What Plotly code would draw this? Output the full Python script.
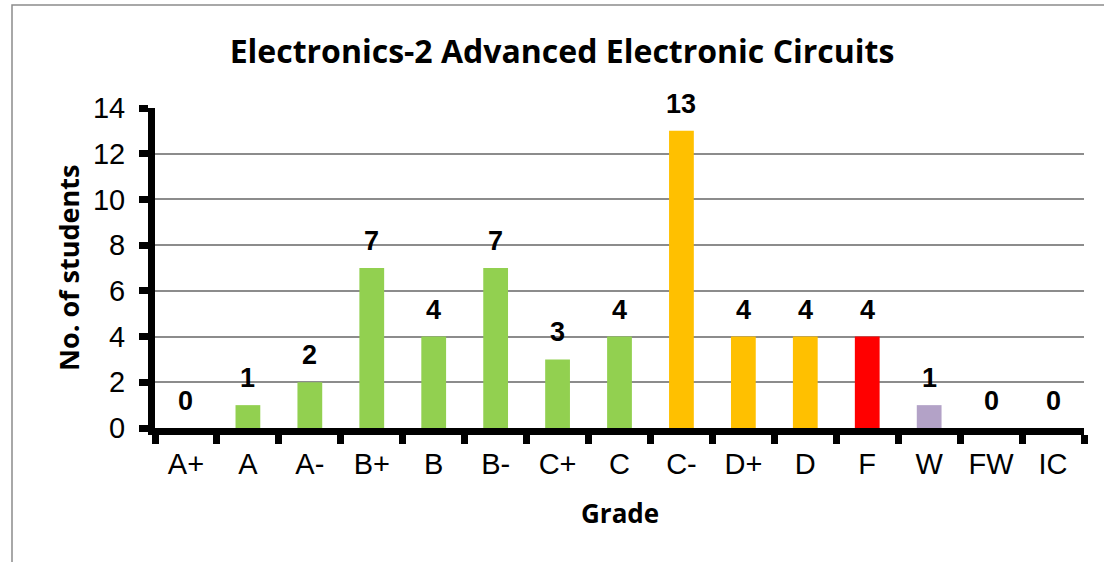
import plotly.graph_objects as go

grades = ["A+", "A", "A-", "B+", "B", "B-", "C+", "C", "C-", "D+", "D", "F", "W", "FW", "IC"]
students = [0, 1, 2, 7, 4, 7, 3, 4, 13, 4, 4, 4, 1, 0, 0]
colors = ["#92D050"] * 8 + ["#FFC000"] * 3 + ["#FF0000", "#B3A2C7", "#92D050", "#92D050"]

L, R, T, B = 155, 1084, 108, 428
W, H = R - L, B - T

fig = go.Figure(go.Bar(
    x=grades, y=students, marker=dict(color=colors, line=dict(width=0)),
    hoverinfo="x+y",
))

lbl_font = dict(family="Liberation Sans, Arial", size=27, color="black", weight="bold")
annotations = [
    dict(x=g, y=v, xref="x", yref="y", text=f"<b>{v}</b>", showarrow=False,
         yanchor="bottom", yshift=10, font=lbl_font)
    for g, v in zip(grades, students)
]
annotations.append(dict(
    x=(68 - L) / W, y=(B - 268) / H, xref="paper", yref="paper", text="<b>No. of students</b>",
    textangle=-90, showarrow=False, xanchor="center", yanchor="middle",
    font=dict(family="Open Sans", size=27, color="black")))
annotations.append(dict(
    x=(620 - L) / W, y=(B - 513) / H, xref="paper", yref="paper", text="<b>Grade</b>",
    showarrow=False, xanchor="center", yanchor="middle",
    font=dict(family="Open Sans", size=26, color="black")))

fig.update_layout(
    width=1104, height=562,
    margin=dict(l=L, r=1104 - R, t=T, b=562 - B, autoexpand=False),
    paper_bgcolor="white", plot_bgcolor="white",
    bargap=0.6, showlegend=False,
    title=dict(text="<b>Electronics-2 Advanced Electronic Circuits</b>",
               x=562 / 1104, xanchor="center", y=1 - 52 / 562, yanchor="middle",
               font=dict(family="Open Sans", size=32, color="black")),
    xaxis=dict(
        tickson="boundaries", ticks="outside", ticklen=9, tickwidth=7, tickcolor="black",
        showline=True, linewidth=7, linecolor="black", automargin=False,
        tickfont=dict(family="Liberation Sans, Arial", size=29, color="black"),
        ticklabelstandoff=4, showgrid=False,
    ),
    yaxis=dict(
        range=[0, 14], dtick=2, ticks="outside", ticklen=9, tickwidth=7, tickcolor="black",
        showline=True, linewidth=7, linecolor="black", automargin=False,
        tickfont=dict(family="Liberation Sans, Arial", size=29, color="black"),
        ticklabelstandoff=8,
        showgrid=True, gridcolor="#8C8C8C", gridwidth=1.5, zeroline=False,
    ),
    annotations=annotations,
    shapes=[dict(type="rect", xref="paper", yref="paper",
                 x0=(12 - L) / W, x1=(1110 - L) / W, y0=(B - 575) / H, y1=(B - 5) / H,
                 line=dict(color="#8C8C8C", width=1.5), fillcolor="rgba(0,0,0,0)", layer="below")],
)

fig.write_html("out.html", config={"displayModeBar": False},
               post_script="document.body.style.margin='0';document.body.style.overflow='hidden';")
